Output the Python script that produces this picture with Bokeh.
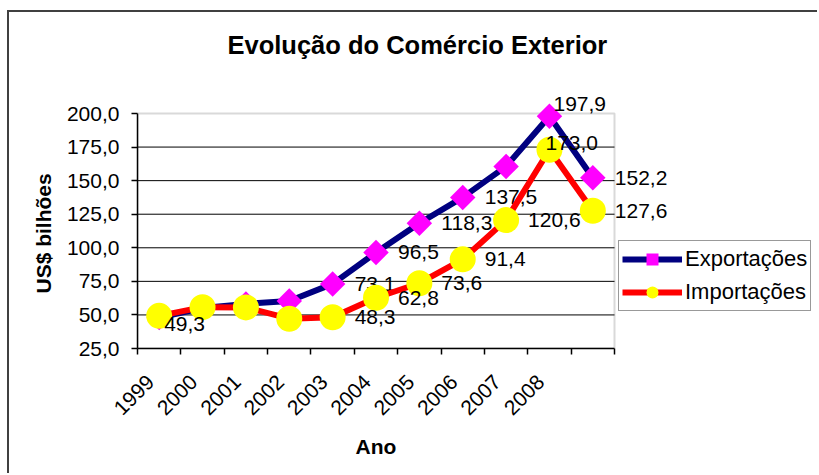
import math
from bokeh.plotting import figure
from bokeh.models import (ColumnDataSource, FixedTicker, LabelSet, Legend,
                          LegendItem, BoxAnnotation, Range1d, Title)
from bokeh.core.properties import value
from bokeh.embed import file_html
from bokeh.resources import INLINE

# ---------------- data ----------------
years = ["1999", "2000", "2001", "2002", "2003", "2004", "2005", "2006", "2007", "2008", ""]
exportacoes = [48.0, 55.1, 58.2, 60.4, 73.1, 96.5, 118.3, 137.5, 160.6, 197.9, 152.2]
importacoes = [49.3, 55.8, 55.6, 47.2, 48.3, 62.8, 73.6, 91.4, 120.6, 173.0, 127.6]
y_ticks = [25, 50, 75, 100, 125, 150, 175, 200]
y_tick_labels = ["25,0", "50,0", "75,0", "100,0", "125,0", "150,0", "175,0", "200,0"]
exp_labeled = [4, 5, 6, 7, 9, 10]          # points that carry a data label
imp_labeled = [0, 4, 5, 6, 7, 8, 9, 10]

# ---------------- style / layout ----------------
FONT = "Liberation Sans"
FS = "21px"
LABEL_DX = 22                       # default data-label nudge (px)
exp_nudge = {9: (4, 12)}            # special nudges (px) per point index
imp_nudge = {0: (5, -8), 9: (-4, 7)}
X_LABEL_SHIFT = -0.2                # rotated year labels sit a bit left of centre

W, H = 810, 463                     # canvas size
LEFT, TOP, BOTTOM = 128, 61, 127    # borders around the frame
AREA_W = 477                        # width of the drawn plot area (px)
AREA_H = 235                        # height of the drawn plot area (px)

n = len(years)
x = list(range(n))
px_per_cat = AREA_W / n
x_end = -0.5 + (W - LEFT) / px_per_cat
px_per_unit = AREA_H / (y_ticks[-1] - y_ticks[0])
y_end = y_ticks[0] + (H - TOP - BOTTOM) / px_per_unit

p = figure(width=W, height=H,
           x_range=Range1d(-0.5, x_end),
           y_range=Range1d(y_ticks[0], y_end),
           output_backend="svg", toolbar_location=None,
           min_border_left=LEFT, min_border_right=0,
           min_border_top=TOP, min_border_bottom=BOTTOM,
           background_fill_color="white", border_fill_color="white",
           outline_line_color=None)
p.styles = {"margin-left": "7px", "margin-top": "10px",
            "border-top": "2px solid #404040", "border-left": "2px solid #404040"}

# title
p.title.text = "Evolução do Comércio Exterior"
p.title.text_font = FONT
p.title.text_font_size = "25.5px"
p.title.text_font_style = "bold"
p.title.text_color = "black"
p.title.align = "left"
p.title.offset = 90
p.title.standoff = 30

# x axis
xa = p.xaxis[0]
tick_pos = [i + X_LABEL_SHIFT for i in x]
xa.ticker = FixedTicker(ticks=tick_pos, minor_ticks=[i - 0.5 for i in range(n + 1)])
xa.major_label_overrides = {t: lab for t, lab in zip(tick_pos, years)}
xa.bounds = (-0.5, n - 0.5)
xa.major_label_orientation = math.pi / 4
xa.major_tick_out = 0
xa.major_tick_in = 0
xa.major_tick_line_color = None
xa.minor_tick_out = 6
xa.minor_tick_in = 0
xa.minor_tick_line_color = "black"
xa.minor_tick_line_width = 1.5
xa.major_label_standoff = 24
xa.major_label_text_font = FONT
xa.major_label_text_font_size = FS
xa.major_label_text_color = "black"
xa.axis_line_color = "black"
xa.axis_line_width = 1.5
xa.axis_label = None

# y axis
ya = p.yaxis[0]
ya.ticker = FixedTicker(ticks=y_ticks, minor_ticks=[])
ya.major_label_overrides = {t: l for t, l in zip(y_ticks, y_tick_labels)}
ya.bounds = (y_ticks[0], y_ticks[-1])
ya.major_tick_out = 6
ya.major_tick_in = 0
ya.major_tick_line_color = "black"
ya.major_tick_line_width = 1.5
ya.minor_tick_line_color = None
ya.major_label_standoff = 12
ya.major_label_text_font = FONT
ya.major_label_text_font_size = FS
ya.major_label_text_color = "black"
ya.axis_line_color = "black"
ya.axis_line_width = 1.5
ya.axis_label = None

# axis titles (placed over the drawn plot area, not the whole frame)
p.add_layout(Title(text="Ano", align="left", offset=218, standoff=20,
                   vertical_align="top", text_font=FONT, text_font_size=FS,
                   text_font_style="bold", text_color="black"), "below")
p.add_layout(Title(text="US$ bilhões", align="left", offset=55, standoff=17,
                   vertical_align="bottom", text_font=FONT, text_font_size=FS,
                   text_font_style="bold", text_color="black"), "left")

# grid lines limited to the plot area
p.xgrid.visible = False
p.ygrid.visible = False
grid_y = y_ticks[1:-1]
p.segment(x0=-0.5, x1=n - 0.5, y0=grid_y, y1=grid_y, line_color="black", line_width=1)

# plot-area border
p.add_layout(BoxAnnotation(left=-0.5, right=n - 0.5,
                           bottom=y_ticks[0], top=y_ticks[-1],
                           fill_color=None, line_color="#808080",
                           line_width=2, level="underlay"))


def label_source(vals, idxs, nudge):
    xs, ys, txt, xo, yo = [], [], [], [], []
    for i in idxs:
        xs.append(x[i])
        ys.append(vals[i])
        txt.append(f"{vals[i]:.1f}".replace(".", ","))
        dx, dy = nudge.get(i, (LABEL_DX, 0))
        xo.append(dx)
        yo.append(dy)
    return ColumnDataSource(dict(x=xs, y=ys, text=txt, xo=xo, yo=yo))


def make_labels(src):
    return LabelSet(x="x", y="y", text="text", x_offset="xo", y_offset="yo",
                    source=src, text_font=value(FONT), text_font_size=FS,
                    text_color="black", text_baseline="middle",
                    text_align="left", level="glyph")


# exports
exp_line = p.line(x, exportacoes, line_color="#000080", line_width=6, line_join="round")
exp_pts = p.scatter(x, exportacoes, marker="square", size=18, angle=math.pi / 4,
                    fill_color="#FF00FF", line_color=None)
p.renderers.append(make_labels(label_source(exportacoes, exp_labeled, exp_nudge)))

# imports
imp_line = p.line(x, importacoes, line_color="#FF0000", line_width=6, line_join="round")
imp_pts = p.scatter(x, importacoes, marker="circle", size=26,
                    fill_color="#FFFF00", line_color=None)
p.renderers.append(make_labels(label_source(importacoes, imp_labeled, imp_nudge)))

legend = Legend(items=[LegendItem(label="Exportações", renderers=[exp_line, exp_pts]),
                       LegendItem(label="Importações", renderers=[imp_line, imp_pts])],
                location=(481, 37), glyph_width=60, glyph_height=30,
                label_height=30, spacing=3, padding=3, label_standoff=3, margin=0,
                border_line_color="#333333", border_line_width=1.5,
                background_fill_color="white", background_fill_alpha=1,
                label_text_font=FONT, label_text_font_size="22px",
                label_text_color="black")
p.add_layout(legend, "center")

open("out.html", "w").write(file_html(p, INLINE))
